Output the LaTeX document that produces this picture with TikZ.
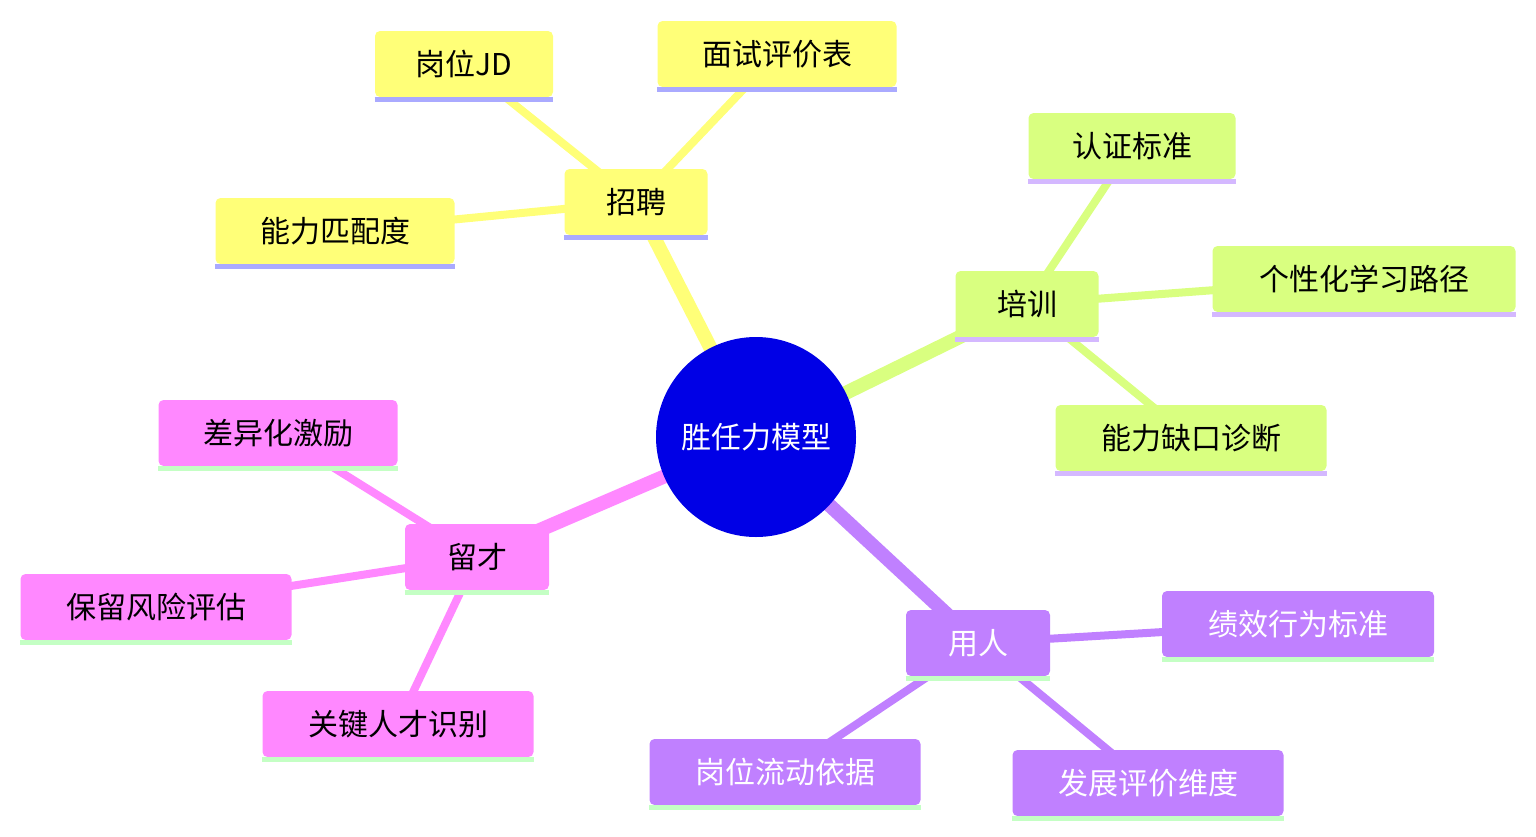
\documentclass[tikz,border=0pt]{standalone}
\usepackage{fontspec}
\newfontfamily\cjk{Noto Sans CJK SC}
\begin{document}
\begin{tikzpicture}[x=0.5pt,y=-0.5pt,
  box/.style={rounded corners=2.5pt,inner sep=0pt,font=\cjk\fontsize{15}{18}\selectfont,minimum height=33pt},
  ul/.style={line width=2.2pt},
  e1/.style={line width=7pt},
  e2/.style={line width=4pt}]
\useasboundingbox (0,0) rectangle (1536,836);
\definecolor{cy}{HTML}{FFFF78}
\definecolor{cg}{HTML}{D9FF80}
\definecolor{cp}{HTML}{FF88FF}
\definecolor{cv}{HTML}{C080FF}
\definecolor{uy}{HTML}{AAAAFF}
\definecolor{ug}{HTML}{D4B8FF}
\definecolor{up}{HTML}{C4FFC4}
\definecolor{cc}{HTML}{0000E6}
% nodes (coordinates for edges)
\coordinate (c) at (756,437);
\newcommand\bx[7]{%
  \node[box,fill=#5,text=#7,minimum width=#4*0.5pt] (#1) at #2 {#3};
  \draw[ul,#6] ([yshift=-1.1pt]#1.south west) -- ([yshift=-1.1pt]#1.south east);}
% edges
\begin{scope}[on background layer/.style={}]
\draw[e1,cy] (c) -- (636,202);
\draw[e1,cg] (c) -- (1027,304);
\draw[e1,cp] (c) -- (477,557);
\draw[e1,cv] (c) -- (978,643);
\draw[e2,cy] (636,202) -- (464,64);
\draw[e2,cy] (636,202) -- (777,54);
\draw[e2,cy] (636,202) -- (335,231);
\draw[e2,cg] (1027,304) -- (1132,146);
\draw[e2,cg] (1027,304) -- (1364,279);
\draw[e2,cg] (1027,304) -- (1191,438);
\draw[e2,cp] (477,557) -- (278,433);
\draw[e2,cp] (477,557) -- (156,607);
\draw[e2,cp] (477,557) -- (398,724);
\draw[e2,cv] (978,643) -- (1298,624);
\draw[e2,cv] (978,643) -- (785,772);
\draw[e2,cv] (978,643) -- (1148,783);
\end{scope}
\node[circle,fill=cc,minimum size=100pt,inner sep=0pt,text=white,font=\cjk\fontsize{15}{18}\selectfont] (center) at (c) {胜任力模型};
\bx{zp}{(636,202)}{招聘}{143}{cy}{uy}{black}
\bx{jd}{(464,64)}{岗位JD}{178}{cy}{uy}{black}
\bx{ms}{(777,54)}{面试评价表}{239}{cy}{uy}{black}
\bx{nl}{(335,231)}{能力匹配度}{239}{cy}{uy}{black}
\bx{px}{(1027,304)}{培训}{143}{cg}{ug}{black}
\bx{rz}{(1132,146)}{认证标准}{207}{cg}{ug}{black}
\bx{gx}{(1364,279)}{个性化学习路径}{303}{cg}{ug}{black}
\bx{qk}{(1191,438)}{能力缺口诊断}{271}{cg}{ug}{black}
\bx{lc}{(477,557)}{留才}{144}{cp}{up}{black}
\bx{cy1}{(278,433)}{差异化激励}{239}{cp}{up}{black}
\bx{bl}{(156,607)}{保留风险评估}{271}{cp}{up}{black}
\bx{gj}{(398,724)}{关键人才识别}{271}{cp}{up}{black}
\bx{yr}{(978,643)}{用人}{144}{cv}{up}{white}
\bx{jx}{(1298,624)}{绩效行为标准}{272}{cv}{up}{white}
\bx{ld}{(785,772)}{岗位流动依据}{271}{cv}{up}{white}
\bx{fz}{(1148,783)}{发展评价维度}{271}{cv}{up}{white}
\end{tikzpicture}
\end{document}
